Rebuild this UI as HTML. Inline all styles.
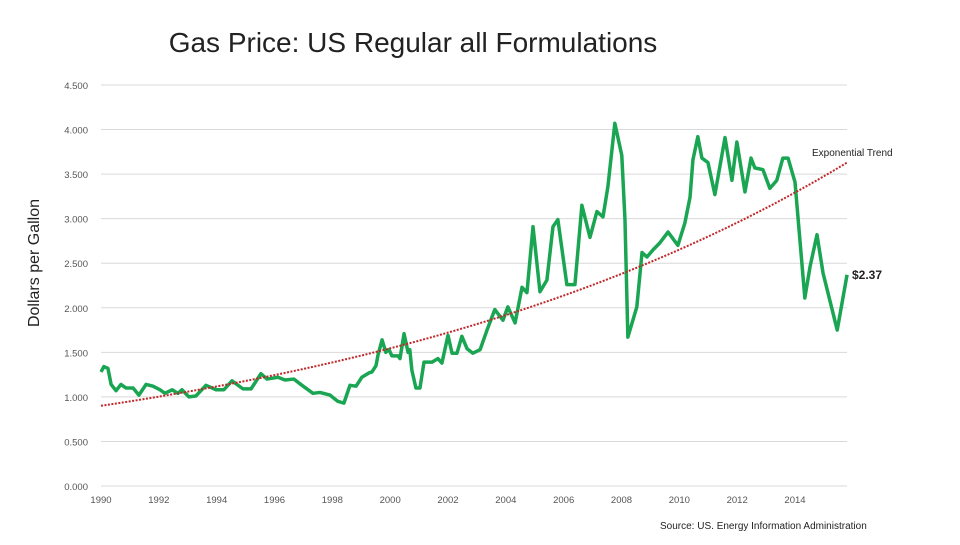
<!DOCTYPE html>
<html><head><meta charset="utf-8"><style>
body{margin:0;background:#fff;}
svg text{font-family:"Liberation Sans",sans-serif;}
</style></head><body>
<svg id="chart" width="960" height="540" viewBox="0 0 960 540">
<text x="413" y="52" text-anchor="middle" font-size="28" fill="#222">Gas Price: US Regular all Formulations</text>
<text transform="translate(39,263) rotate(-90)" text-anchor="middle" font-size="16" fill="#222">Dollars per Gallon</text>
<g id="grid"></g><g id="yt"></g><g id="xt"></g><g id="series"></g>
<text x="812" y="156" font-size="10" fill="#222">Exponential Trend</text>
<text x="852" y="279" font-size="12" font-weight="bold" fill="#222">$2.37</text>
<text x="660" y="529" font-size="10" fill="#222">Source: US. Energy Information Administration</text>
</svg>
<script>
const yTicks=[0,0.5,1,1.5,2,2.5,3,3.5,4,4.5];
const xTicks=[1990,1992,1994,1996,1998,2000,2002,2004,2006,2008,2010,2012,2014];
const years=[1990.00,1990.10,1990.24,1990.35,1990.52,1990.69,1990.86,1991.11,1991.31,1991.56,1991.80,1992.04,1992.21,1992.46,1992.66,1992.80,1993.04,1993.28,1993.63,1993.98,1994.25,1994.53,1994.91,1995.19,1995.53,1995.74,1996.12,1996.36,1996.67,1996.95,1997.33,1997.57,1997.92,1998.19,1998.40,1998.61,1998.82,1999.02,1999.27,1999.37,1999.51,1999.58,1999.72,1999.85,1999.96,2000.06,2000.27,2000.34,2000.48,2000.62,2000.68,2000.75,2000.89,2001.03,2001.17,2001.45,2001.65,2001.79,2002.00,2002.14,2002.31,2002.48,2002.66,2002.86,2003.11,2003.35,2003.62,2003.90,2004.07,2004.32,2004.56,2004.73,2004.94,2005.18,2005.42,2005.63,2005.80,2006.11,2006.39,2006.63,2006.91,2007.15,2007.36,2007.53,2007.77,2008.01,2008.12,2008.22,2008.53,2008.71,2008.88,2009.09,2009.33,2009.61,2009.95,2010.19,2010.37,2010.47,2010.64,2010.78,2010.99,2011.23,2011.58,2011.82,2011.99,2012.27,2012.48,2012.61,2012.89,2013.13,2013.37,2013.58,2013.76,2014.00,2014.34,2014.52,2014.76,2014.97,2015.46,2015.80];
const prices=[1.28,1.34,1.32,1.14,1.07,1.14,1.10,1.10,1.02,1.14,1.12,1.08,1.04,1.08,1.04,1.08,1.00,1.01,1.13,1.08,1.08,1.18,1.09,1.09,1.26,1.20,1.22,1.19,1.20,1.13,1.04,1.05,1.02,0.95,0.93,1.13,1.12,1.22,1.27,1.28,1.35,1.47,1.64,1.50,1.53,1.46,1.46,1.43,1.71,1.50,1.53,1.30,1.10,1.10,1.39,1.39,1.43,1.38,1.69,1.49,1.49,1.68,1.54,1.49,1.53,1.75,1.98,1.86,2.01,1.83,2.23,2.17,2.91,2.18,2.31,2.91,2.99,2.26,2.26,3.15,2.79,3.08,3.02,3.36,4.07,3.71,2.99,1.67,2.01,2.62,2.57,2.65,2.73,2.85,2.70,2.95,3.24,3.66,3.92,3.68,3.63,3.27,3.91,3.43,3.86,3.30,3.68,3.57,3.55,3.34,3.43,3.68,3.68,3.41,2.11,2.46,2.82,2.39,1.75,2.37];
const trendA=0.90, trendB=0.05405;
const X0=101,X1=795,Y0=486,Y1=85;
const xs=y=>X0+(y-1990)*(X1-X0)/24;
const ys=v=>Y0-v*(Y0-Y1)/4.5;
const NS="http://www.w3.org/2000/svg";
function mk(t,a,p){const e=document.createElementNS(NS,t);for(const k in a)e.setAttribute(k,a[k]);document.getElementById(p).appendChild(e);return e;}
yTicks.forEach(v=>{
 const l=mk('line',{x1:101,x2:847,y1:ys(v),y2:ys(v),stroke:'#d9d9d9','stroke-width':1},'grid');
 
 
 const t=mk('text',{x:88,y:ys(v)+4,'text-anchor':'end','font-size':9.5,fill:'#555'},'yt');
 t.textContent=v.toFixed(3);
 
 
});
xTicks.forEach(v=>{
 const t=mk('text',{x:xs(v),y:503,'text-anchor':'middle','font-size':9.5,fill:'#555'},'xt');
 t.textContent=v;
 
 
});
const pl=mk('polyline',{points:years.map((y,i)=>xs(y)+','+ys(prices[i])).join(' '),fill:'none',stroke:'#1aa553','stroke-width':3.5,'stroke-linejoin':'round'},'series');


const tp=[];for(let y=1990;y<=2015.8;y+=0.1)tp.push(xs(y)+','+ys(trendA*Math.exp(trendB*(y-1990))));
const tl=mk('polyline',{points:tp.join(' '),fill:'none',stroke:'#c0282a','stroke-width':2,'stroke-dasharray':'2 1.5'},'series');


</script>
</body></html>
